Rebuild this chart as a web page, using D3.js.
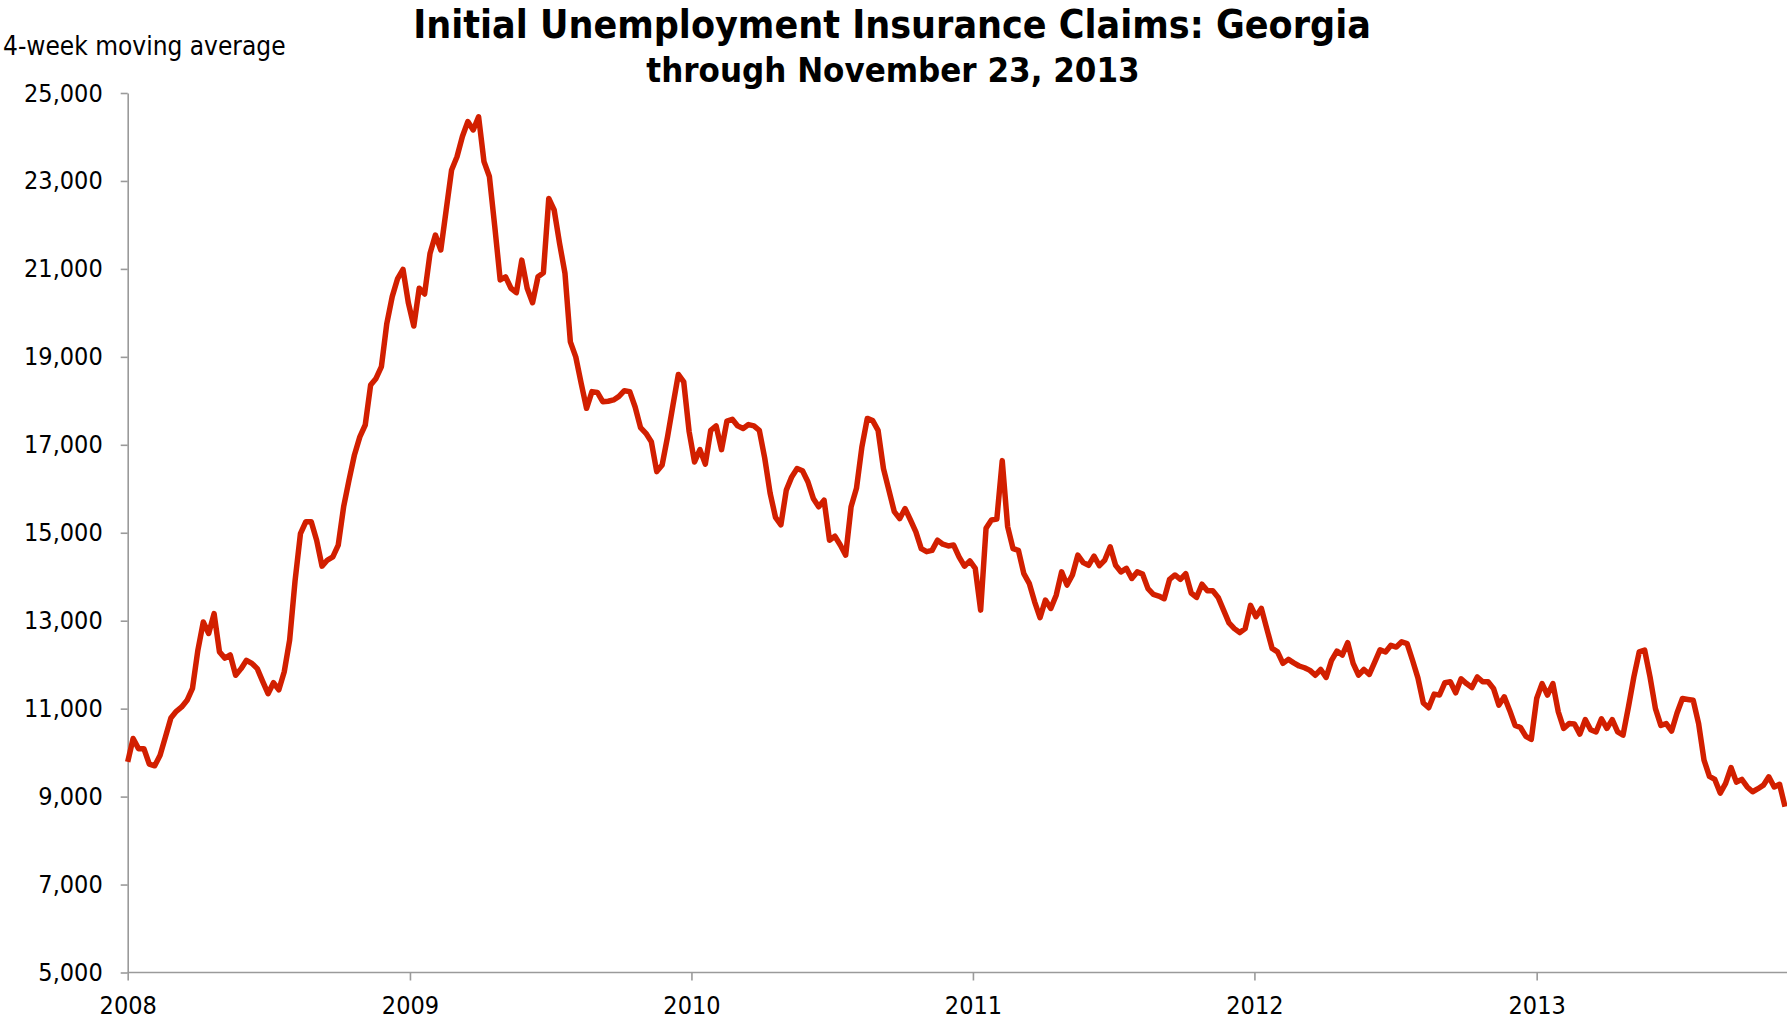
<!DOCTYPE html>
<html>
<head>
<meta charset="utf-8">
<script src="https://cdn.jsdelivr.net/npm/d3@7"></script>
<style>
  html, body { margin: 0; padding: 0; background: #fff; }
  svg { display: block; }
  text { font-family: "DejaVu Sans Condensed", "DejaVu Sans", sans-serif; font-stretch: condensed; fill: #000; }
</style>
</head>
<body>
<svg id="chart" width="1787" height="1024"></svg>
<script>
// ---- data ----
const titleText = "Initial Unemployment Insurance Claims: Georgia";
const subtitleText = "through November 23, 2013";
const unitLabel = "4-week moving average";
const firstWeek = "2008-01-05";      // week ending date of first value
const yTicks = [5000, 7000, 9000, 11000, 13000, 15000, 17000, 19000, 21000, 23000, 25000];
const xTickDates = ["2008-01-05", "2009-01-05", "2010-01-05", "2011-01-05", "2012-01-05", "2013-01-05"];
const claims = [
  9790, 10320, 10090, 10090, 9740, 9700, 9940, 10360, 10790, 10940,
  11040, 11190, 11460, 12330, 12970, 12710, 13160, 12290, 12150, 12220,
  11760, 11910, 12100, 12030, 11910, 11620, 11340, 11590, 11430, 11840,
  12560, 13900, 14980, 15250, 15250, 14830, 14240, 14380, 14450, 14720,
  15590, 16200, 16770, 17180, 17450, 18360, 18510, 18780, 19760, 20370,
  20780, 20990, 20220, 19700, 20560, 20430, 21350, 21770, 21430, 22340,
  23250, 23550, 24010, 24350, 24160, 24460, 23440, 23100, 21960, 20750,
  20820, 20560, 20460, 21200, 20560, 20230, 20820, 20910, 22600, 22340,
  21580, 20900, 19340, 19000, 18400, 17830, 18210, 18190, 17980, 17990,
  18020, 18100, 18230, 18210, 17860, 17390, 17260, 17070, 16390, 16540,
  17180, 17900, 18600, 18430, 17300, 16610, 16890, 16560, 17330, 17430,
  16890, 17540, 17580, 17430, 17370, 17460, 17430, 17330, 16700, 15900,
  15350, 15180, 15970, 16270, 16460, 16410, 16160, 15780, 15590, 15740,
  14830, 14920, 14720, 14490, 15590, 16010, 16950, 17600, 17550, 17330,
  16460, 15970, 15480, 15320, 15550, 15290, 15020, 14640, 14570, 14600,
  14830, 14740, 14700, 14720, 14450, 14240, 14360, 14190, 13240, 15100,
  15290, 15310, 16640, 15140, 14640, 14600, 14070, 13850, 13430, 13070,
  13470, 13280, 13580, 14110, 13810, 14040, 14490, 14320, 14260, 14470,
  14250, 14380, 14680, 14260, 14110, 14190, 13960, 14110, 14060, 13730,
  13600, 13560, 13500, 13940, 14040, 13940, 14070, 13630, 13530, 13830,
  13680, 13680, 13530, 13240, 12950, 12820, 12730, 12820, 13350, 13090,
  13280, 12820, 12370, 12290, 12030, 12120, 12040, 11970, 11930, 11870,
  11760, 11890, 11710, 12100, 12310, 12220, 12500, 12030, 11760, 11890,
  11780, 12060, 12340, 12290, 12440, 12400, 12520, 12480, 12100, 11700,
  11130, 11020, 11330, 11310, 11590, 11610, 11360, 11680, 11570, 11480,
  11720, 11610, 11610, 11460, 11080, 11270, 10960, 10620, 10570, 10370,
  10300, 11230, 11570, 11310, 11570, 10930, 10550, 10660, 10650, 10420,
  10750, 10520, 10470, 10770, 10550, 10750, 10470, 10400, 11040, 11720,
  12290, 12330, 11720, 11000, 10620, 10660, 10490, 10900, 11230, 11210,
  11190, 10660, 9830, 9460, 9390, 9080, 9300, 9660, 9330, 9390,
  9220, 9110, 9180, 9260, 9450, 9220, 9280, 8770
];

// ---- drawing ----
const parse = d3.utcParse("%Y-%m-%d");
const start = parse(firstWeek);
const series = claims.map((v, i) => ({ date: d3.utcDay.offset(start, 7 * i), value: v }));

const svg = d3.select("#chart");
const mLeft = 127.7, mRight = 1785, mTop = 93, mBottom = 972.5;

const x = d3.scaleUtc()
  .domain([series[0].date, series[series.length - 1].date])
  .range([mLeft, mRight]);
const y = d3.scaleLinear().domain([5000, 25000]).range([mBottom, mTop]);

const axisColor = "#9a9a9a";
const fontFam = '"DejaVu Sans Condensed", "DejaVu Sans", sans-serif';

// Y axis
const gy = svg.append("g")
  .attr("transform", `translate(${mLeft},0)`)
  .call(d3.axisLeft(y).tickValues(yTicks).tickFormat(d3.format(",")).tickSize(7).tickSizeOuter(0).tickPadding(18));
gy.selectAll("path.domain").attr("stroke", axisColor).attr("stroke-width", 1.6);
gy.selectAll(".tick line").attr("stroke", axisColor).attr("stroke-width", 1.6);
gy.selectAll(".tick text").attr("font-size", 25).attr("fill", "#000").style("font-family", fontFam);

// X axis
const gx = svg.append("g")
  .attr("transform", `translate(0,${mBottom})`)
  .call(d3.axisBottom(x).tickValues(xTickDates.map(parse)).tickFormat(d3.utcFormat("%Y")).tickSize(8).tickSizeOuter(0).tickPadding(16));
gx.select("path.domain").attr("d", `M${mLeft},0H1787`).attr("stroke", axisColor).attr("stroke-width", 1.6);
gx.selectAll(".tick line").attr("stroke", axisColor).attr("stroke-width", 1.6);
gx.selectAll(".tick text").attr("font-size", 25).attr("fill", "#000").style("font-family", fontFam);

// Line
const line = d3.line().x(d => x(d.date)).y(d => y(d.value));
svg.append("path")
  .datum(series)
  .attr("d", line)
  .attr("fill", "none")
  .attr("stroke", "#d21f00")
  .attr("stroke-width", 5.5)
  .attr("stroke-linejoin", "round")
  .attr("stroke-linecap", "butt");

// Titles
svg.append("text").attr("x", 892).attr("y", 38)
  .attr("text-anchor", "middle").attr("font-size", 39).attr("font-weight", "bold")
  .text(titleText);
svg.append("text").attr("x", 893).attr("y", 82)
  .attr("text-anchor", "middle").attr("font-size", 34.5).attr("font-weight", "bold")
  .text(subtitleText);
svg.append("text").attr("x", 3).attr("y", 55)
  .attr("font-size", 26)
  .text(unitLabel);
</script>
</body>
</html>
